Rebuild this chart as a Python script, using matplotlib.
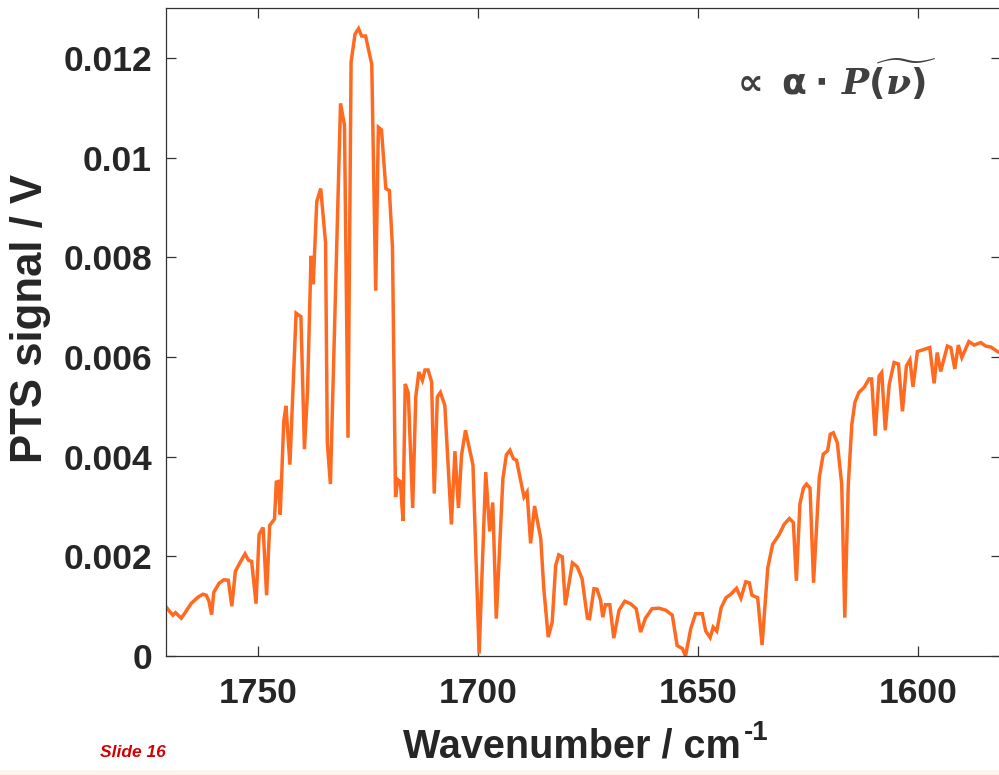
import matplotlib
matplotlib.use("Agg")
import matplotlib.pyplot as plt
from matplotlib.patches import Rectangle

# wavenumber (cm^-1) and PTS signal (V)
wavenumber = [
    1770.8, 1770.0, 1769.4, 1768.8, 1768.2, 1767.5, 1766.7, 1765.2, 1763.7, 1762.6,
    1761.8, 1761.2, 1760.6, 1760.1, 1758.9, 1757.8, 1756.8, 1756.0, 1755.2, 1754.3,
    1753.0, 1752.2, 1751.5, 1750.5, 1749.8, 1748.9, 1748.1, 1747.4, 1746.3, 1745.9,
    1745.5, 1745.0, 1744.2, 1743.7, 1742.8, 1741.4, 1740.3, 1739.5, 1738.8, 1738.0,
    1737.5, 1736.7, 1735.8, 1734.7, 1734.3, 1733.6, 1731.3, 1730.4, 1729.6, 1728.9,
    1728.0, 1727.2, 1726.5, 1725.6, 1724.2, 1723.3, 1722.7, 1722.0, 1721.0, 1720.2,
    1719.5, 1718.8, 1718.3, 1717.7, 1717.1, 1716.6, 1715.9, 1714.9, 1714.2, 1713.5,
    1712.7, 1712.1, 1711.4, 1710.6, 1710.0, 1709.3, 1708.6, 1707.6, 1706.1, 1705.3,
    1704.5, 1703.8, 1702.9, 1701.2, 1699.8, 1698.3, 1697.4, 1696.7, 1695.9, 1694.4,
    1693.6, 1692.8, 1692.0, 1691.3, 1689.6, 1688.9, 1688.1, 1687.2, 1685.8, 1685.1,
    1684.1, 1683.2, 1682.4, 1681.7, 1680.9, 1680.2, 1678.6, 1677.5, 1676.4, 1675.2,
    1674.7, 1673.7, 1673.0, 1672.2, 1671.7, 1671.1, 1670.1, 1669.2, 1668.0, 1666.7,
    1665.4, 1664.1, 1663.1, 1662.0, 1660.5, 1658.9, 1657.4, 1655.9, 1654.8, 1653.6,
    1652.9, 1651.7, 1650.6, 1649.1, 1648.3, 1647.3, 1646.6, 1645.8, 1644.8, 1643.7,
    1642.6, 1641.3, 1640.3, 1639.2, 1638.4, 1637.8, 1636.5, 1635.5, 1634.2, 1633.1,
    1631.6, 1630.5, 1629.3, 1628.4, 1627.7, 1626.9, 1626.1, 1625.4, 1624.6, 1623.8,
    1622.5, 1621.6, 1620.6, 1620.0, 1619.3, 1618.4, 1617.4, 1616.7, 1615.9, 1615.1,
    1614.4, 1613.5, 1612.3, 1611.2, 1610.6, 1609.8, 1608.9, 1608.3, 1607.5, 1606.6,
    1605.5, 1604.5, 1603.6, 1602.7, 1601.9, 1601.2, 1600.2, 1599.1, 1597.4, 1596.4,
    1595.7, 1594.9, 1593.4, 1592.6, 1591.7, 1590.9, 1590.1, 1588.5, 1587.3, 1585.8,
    1584.7, 1583.5, 1582.0, 1581.0,
]
signal = [
    0.00097, 0.00088, 0.00082, 0.00087, 0.00082, 0.00076, 0.00086, 0.00106, 0.00118, 0.00124,
    0.00122, 0.00110, 0.00083, 0.00128, 0.00146, 0.00153, 0.00152, 0.00100, 0.00170, 0.00185,
    0.00205, 0.00192, 0.00190, 0.00105, 0.00244, 0.00258, 0.00122, 0.00262, 0.00275, 0.00349,
    0.00350, 0.00284, 0.00471, 0.00502, 0.00384, 0.00688, 0.00681, 0.00415, 0.00532, 0.00803,
    0.00746, 0.00912, 0.00938, 0.00829, 0.00428, 0.00345, 0.01109, 0.01065, 0.00438, 0.01192,
    0.01248, 0.01259, 0.01244, 0.01244, 0.01187, 0.00733, 0.01061, 0.01056, 0.00938, 0.00934,
    0.00821, 0.00319, 0.00354, 0.00350, 0.00271, 0.00546, 0.00528, 0.00297, 0.00520, 0.00570,
    0.00553, 0.00574, 0.00574, 0.00550, 0.00326, 0.00520, 0.00529, 0.00503, 0.00264, 0.00411,
    0.00297, 0.00403, 0.00453, 0.00383, 0.00005, 0.00369, 0.00250, 0.00308, 0.00075, 0.00356,
    0.00404, 0.00413, 0.00396, 0.00393, 0.00319, 0.00329, 0.00226, 0.00301, 0.00236, 0.00135,
    0.00038, 0.00068, 0.00182, 0.00203, 0.00199, 0.00102, 0.00187, 0.00179, 0.00155, 0.00076,
    0.00075, 0.00135, 0.00134, 0.00112, 0.00078, 0.00103, 0.00103, 0.00036, 0.00092, 0.00110,
    0.00105, 0.00095, 0.00048, 0.00076, 0.00095, 0.00096, 0.00092, 0.00082, 0.00021, 0.00015,
    0.00000, 0.00055, 0.00085, 0.00085, 0.00050, 0.00037, 0.00058, 0.00050, 0.00097, 0.00117,
    0.00124, 0.00136, 0.00116, 0.00149, 0.00147, 0.00122, 0.00117, 0.00022, 0.00177, 0.00224,
    0.00244, 0.00264, 0.00276, 0.00268, 0.00151, 0.00305, 0.00337, 0.00345, 0.00337, 0.00147,
    0.00358, 0.00405, 0.00412, 0.00445, 0.00448, 0.00428, 0.00345, 0.00077, 0.00345, 0.00465,
    0.00509, 0.00529, 0.00539, 0.00556, 0.00556, 0.00442, 0.00562, 0.00569, 0.00453, 0.00545,
    0.00589, 0.00586, 0.00491, 0.00582, 0.00594, 0.00540, 0.00611, 0.00614, 0.00619, 0.00547,
    0.00609, 0.00571, 0.00622, 0.00619, 0.00576, 0.00624, 0.00599, 0.00631, 0.00624, 0.00629,
    0.00622, 0.00620, 0.00611, 0.00606,
]

x_ticks = [1750, 1700, 1650, 1600]
y_ticks = [0, 0.002, 0.004, 0.006, 0.008, 0.01, 0.012]
y_tick_labels = ["0", "0.002", "0.004", "0.006", "0.008", "0.01", "0.012"]

plt.rcParams["font.family"] = ["Liberation Sans", "DejaVu Sans"]
plt.rcParams["mathtext.fontset"] = "custom"
plt.rcParams["mathtext.rm"] = "DejaVu Sans:bold"
plt.rcParams["mathtext.it"] = "DejaVu Serif:bold:italic"

text_col = "#262626"

fig = plt.figure(figsize=(9.99, 7.75), dpi=100)
ax = fig.add_axes([0.166, 0.1535, 0.836, 0.836])

ax.plot(wavenumber, signal, color="#ff6a21", lw=2.5, solid_joinstyle="miter")

ax.set_xlim(1771, 1581.2)
ax.set_ylim(0, 0.013)
ax.set_xticks(x_ticks)
ax.set_xticklabels([str(t) for t in x_ticks])
ax.set_yticks(y_ticks)
ax.set_yticklabels(y_tick_labels)

ax.tick_params(direction="in", length=7, width=0.9, color="#333333",
               top=True, right=True, labelsize=25.5, labelcolor=text_col)
ax.tick_params(axis="x", pad=15)
ax.tick_params(axis="y", pad=10)
for lab in ax.get_xticklabels() + ax.get_yticklabels():
    lab.set_fontweight("bold")
for s in ax.spines.values():
    s.set_color("#333333")
    s.set_linewidth(0.9)

# axis labels
fig.text(0.031, 1 - 318 / 775, "PTS signal / V", rotation=90, fontsize=31.5,
         fontweight="bold", color=text_col, ha="center", va="center")
fig.text(403 / 999, 1 - 758 / 775, "Wavenumber / cm", fontsize=28.5,
         fontweight="bold", color=text_col, ha="left", va="baseline")
fig.text(744 / 999, 1 - 740 / 775, "-1", fontsize=20,
         fontweight="bold", color=text_col, ha="left", va="baseline")

# formula annotation
fig.text(0.834, 1 - 80 / 775, r"$\propto\;\mathrm{\alpha}\cdot\,P\widetilde{(\nu)}$",
         fontsize=26, color="#404040", ha="center", va="center")

# slide footer
fig.text(100 / 999, 1 - 757 / 775, "Slide 16", fontsize=12.5, color="#d40000",
         fontweight="bold", fontstyle="italic", ha="left", va="baseline")
fig.patches.append(Rectangle((0, 0), 1, 5 / 775, transform=fig.transFigure,
                             facecolor="#fdf4ea", edgecolor="none"))

fig.savefig("out.png", dpi=100)
